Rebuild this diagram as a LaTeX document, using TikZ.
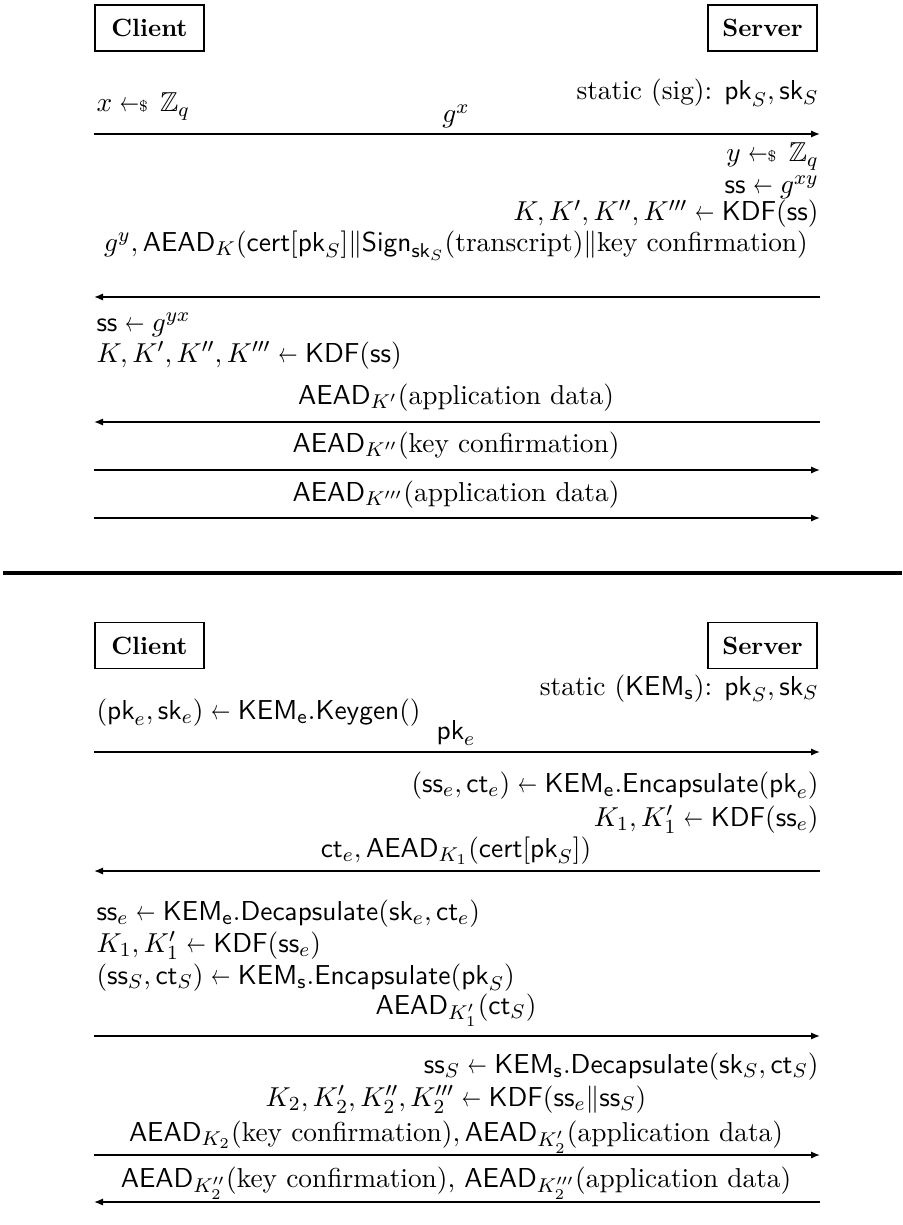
\documentclass[tikz,border=0pt]{standalone}
\usepackage{amsmath,amssymb}
\usetikzlibrary{arrows.meta}
% short assignment arrow and sampling arrow
\newcommand{\sgets}{\mathrel{\scalebox{0.7}[1]{$\leftarrow$}}}
\newcommand{\ssample}{\mathrel{\scalebox{0.7}[1]{$\leftarrow$}{\scriptscriptstyle\$}}\,}
\newcommand{\sfn}[1]{\mathsf{#1}}
\begin{document}
\begin{tikzpicture}[x=0.4pt,y=-0.4pt,
  every node/.style={font=\fontsize{10.95}{13.6}\selectfont},
  party/.style={draw,line width=0.5pt,minimum width=43.6pt,minimum height=18.4pt,inner sep=0pt,font=\fontsize{10}{12}\selectfont\bfseries},
  cl/.style={anchor=base west,inner sep=0pt},
  sv/.style={anchor=base east,inner sep=0pt},
  msg/.style={anchor=base,inner sep=0pt},
  flow/.style={line width=0.6pt,-{Latex[length=3.6pt,width=2.9pt]}},
  divider/.style={line width=1.6pt}]
\useasboundingbox (0,0) rectangle (902,1225);

% ---------------- signed Diffie--Hellman ----------------
\node[party] (c1) at (149.5,28) {Client};
\node[party] (s1) at (762.5,28) {Server};
\node[sv] (t1) at (819,100) {static (sig): $\sfn{pk}_S,\sfn{sk}_S$};
\node[cl] (t2) at (96,112) {$x \ssample \mathbb{Z}_q$};
\node[msg] (m1) at (456,123) {$g^{\vphantom{y}x}$};
\coordinate (a1l) at (94,134); \coordinate (a1r) at (820,134);
\draw[flow] (a1l) -- (a1r);
\node[sv] (t3) at (819,162) {$y \ssample \mathbb{Z}_q$};
\node[sv] (t4) at (819,194) {$\sfn{ss} \sgets g^{xy}$};
\node[sv] (t5) at (819,221) {$K, K', K'', K''' \sgets \sfn{KDF}(\sfn{ss})$};
\node[msg] (m2) at (456,251) {$g^y, \sfn{AEAD}_K(\sfn{cert}[\sfn{pk}_S] \| \sfn{Sign}_{\sfn{sk}_S}(\text{transcript}) \| \text{key confirmation})$};
\coordinate (a2l) at (94,297); \coordinate (a2r) at (820,297);
\draw[flow] (a2r) -- (a2l);
\node[cl] (t6) at (96,331) {$\sfn{ss} \sgets g^{yx}$};
\node[cl] (t7) at (96,362) {$K, K', K'', K''' \sgets \sfn{KDF}(\sfn{ss})$};
\node[msg] (m3) at (456,404) {$\sfn{AEAD}_{K'}(\text{application data})$};
\coordinate (a3l) at (94,422); \coordinate (a3r) at (820,422);
\draw[flow] (a3r) -- (a3l);
\node[msg] (m4) at (456,452) {$\sfn{AEAD}_{K''}(\text{key confirmation})$};
\coordinate (a4l) at (94,470); \coordinate (a4r) at (820,470);
\draw[flow] (a4l) -- (a4r);
\node[msg] (m5) at (456,501) {$\sfn{AEAD}_{K'''}(\text{application data})$};
\coordinate (a5l) at (94,518); \coordinate (a5r) at (820,518);
\draw[flow] (a5l) -- (a5r);

% ---------------- divider ----------------
\coordinate (dl) at (3,573); \coordinate (dr) at (902,573);
\draw[divider] (dl) -- (dr);

% ---------------- KEM-based handshake ----------------
\node[party] (c2) at (149.5,645.5) {Client};
\node[party] (s2) at (762.5,645.5) {Server};
\node[sv] (u1) at (819,695) {static ($\sfn{KEM}_\sfn{s}$): $\sfn{pk}_S,\sfn{sk}_S$};
\node[cl] (u2) at (96,719) {$(\sfn{pk}_e,\sfn{sk}_e) \sgets \sfn{KEM}_\sfn{e}.\sfn{Keygen}()$};
\node[msg] (n1) at (456,739) {$\sfn{pk}_e$};
\coordinate (b1l) at (94,752); \coordinate (b1r) at (820,752);
\draw[flow] (b1l) -- (b1r);
\node[sv] (u3) at (819,792) {$(\sfn{ss}_e,\sfn{ct}_e) \sgets \sfn{KEM}_\sfn{e}.\sfn{Encapsulate}(\sfn{pk}_e)$};
\node[sv] (u4) at (819,826) {$K_1, K_1' \sgets \sfn{KDF}(\sfn{ss}_e)$};
\node[msg] (n2) at (456,857) {$\sfn{ct}_e, \sfn{AEAD}_{K_1}(\sfn{cert}[\sfn{pk}_S])$};
\coordinate (b2l) at (94,871); \coordinate (b2r) at (820,871);
\draw[flow] (b2r) -- (b2l);
\node[cl] (u5) at (96,920) {$\sfn{ss}_e \sgets \sfn{KEM}_\sfn{e}.\sfn{Decapsulate}(\sfn{sk}_e,\sfn{ct}_e)$};
\node[cl] (u6) at (96,952) {$K_1, K_1' \sgets \sfn{KDF}(\sfn{ss}_e)$};
\node[cl] (u7) at (96,984) {$(\sfn{ss}_S,\sfn{ct}_S) \sgets \sfn{KEM}_\sfn{s}.\sfn{Encapsulate}(\sfn{pk}_S)$};
\node[msg] (n3) at (456,1014) {$\sfn{AEAD}_{K_1'}(\sfn{ct}_S)$};
\coordinate (b3l) at (94,1036); \coordinate (b3r) at (820,1036);
\draw[flow] (b3l) -- (b3r);
\node[sv] (u8) at (819,1073) {$\sfn{ss}_S \sgets \sfn{KEM}_\sfn{s}.\sfn{Decapsulate}(\sfn{sk}_S,\sfn{ct}_S)$};
\node[msg] (u9) at (456,1106) {$K_2, K_2', K_2'', K_2''' \sgets \sfn{KDF}(\sfn{ss}_e \| \sfn{ss}_S)$};
\node[msg] (n4) at (456,1141) {$\sfn{AEAD}_{K_2}(\text{key confirmation}), \sfn{AEAD}_{K_2'}(\text{application data})$};
\coordinate (b4l) at (94,1155); \coordinate (b4r) at (820,1155);
\draw[flow] (b4l) -- (b4r);
\node[msg] (n5) at (456,1187) {$\sfn{AEAD}_{K_2''}(\text{key confirmation})$, $\sfn{AEAD}_{K_2'''}(\text{application data})$};
\coordinate (b5l) at (94,1202); \coordinate (b5r) at (820,1202);
\draw[flow] (b5r) -- (b5l);
\end{tikzpicture}
\end{document}
